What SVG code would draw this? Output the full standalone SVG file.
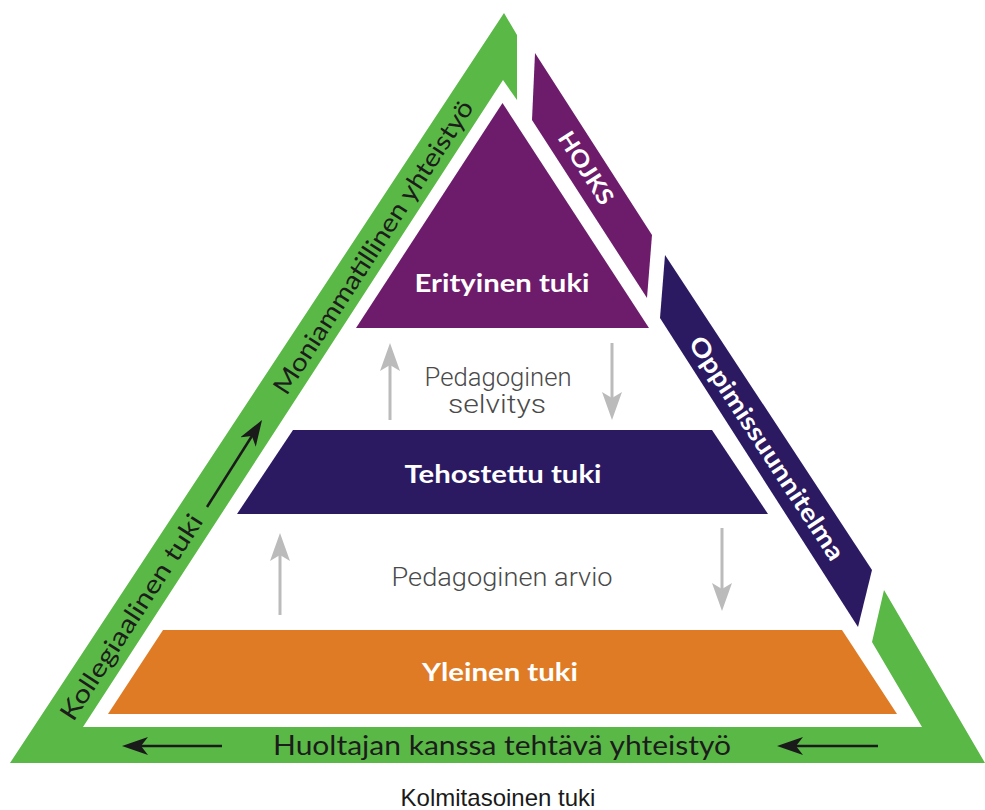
<svg xmlns="http://www.w3.org/2000/svg" width="985" height="810" viewBox="0 0 985 810">
<defs>
<style>
.green{fill:#5ab946}
.purple{fill:#6d1c6b}
.navy{fill:#2b1a62}
.orange{fill:#df7b24}
.lvl{font-family:Lato,"Open Sans","Liberation Sans",sans-serif;font-weight:700;fill:#ffffff;text-anchor:middle;font-size:25px}
.ped{font-family:Roboto,"Liberation Sans",sans-serif;font-weight:300;fill:#4a4a4a;text-anchor:middle;font-size:25px}
.band{font-family:Lato,"Open Sans","Liberation Sans",sans-serif;font-weight:400;fill:#1c1c1c;text-anchor:middle}
.bandw{font-family:Lato,"Open Sans","Liberation Sans",sans-serif;font-weight:700;fill:#ffffff;text-anchor:middle}
.grey{stroke:#bbbbbb;stroke-width:3;fill:none}
.blk{stroke:#1a1a1a;stroke-width:2.5;fill:none}
</style>
<marker id="gh" markerUnits="userSpaceOnUse" markerWidth="30" markerHeight="22" refX="18" refY="10" orient="auto">
<path d="M0,0 L28,10 L0,20 L6,10 z" fill="#bbbbbb"/>
</marker>
<marker id="bh" markerUnits="userSpaceOnUse" markerWidth="28" markerHeight="20" refX="16" refY="9" orient="auto">
<path d="M0,0 L26,9 L0,18 L7,9 z" fill="#1a1a1a"/>
</marker>
</defs>
<rect width="985" height="810" fill="#ffffff"/>

<g id="frame">
<polygon class="green" points="10,763 504,13 517,35 517,100 503,80 83,727 922,727 872,642 884,590 985,763"/>
</g>

<g id="erityinen">
<polygon class="purple" points="502.5,103 356,328 649,328"/>
<text class="lvl" x="502" y="292" textLength="175" lengthAdjust="spacingAndGlyphs">Erityinen tuki</text>
</g>

<g id="tehostettu">
<polygon class="navy" points="293,430 712,430 768,514 237,514"/>
<text class="lvl" x="503" y="483" textLength="197" lengthAdjust="spacingAndGlyphs">Tehostettu tuki</text>
</g>

<g id="yleinen">
<polygon class="orange" points="163,630 842,630 897,714 108,714"/>
<text class="lvl" x="500" y="681" textLength="156" lengthAdjust="spacingAndGlyphs">Yleinen tuki</text>
</g>

<g id="hojks">
<polygon class="purple" points="535,53 652,235 647,298 532,120"/>
<text class="bandw" transform="translate(586,168) rotate(57.3)" y="8" font-size="23" textLength="82" lengthAdjust="spacingAndGlyphs">HOJKS</text>
</g>

<g id="oppimissuunnitelma">
<polygon class="navy" points="665,255 872,570 858,627 660,318"/>
<text class="bandw" transform="translate(767,448) rotate(56.8)" y="9" font-size="25" font-weight="400" textLength="262" lengthAdjust="spacingAndGlyphs">Oppimissuunnitelma</text>
</g>

<g id="moniammatillinen">
<text class="band" transform="translate(373,247) rotate(-57)" y="9" font-size="25" textLength="345" lengthAdjust="spacingAndGlyphs">Moniammatillinen yhteistyö</text>
</g>

<g id="kollegiaalinen">
<text class="band" transform="translate(131,617) rotate(-57)" y="9" font-size="25" textLength="240" lengthAdjust="spacingAndGlyphs">Kollegiaalinen tuki</text>
</g>

<g id="huoltajan">
<text class="band" x="502" y="755" font-size="26" textLength="458" lengthAdjust="spacingAndGlyphs">Huoltajan kanssa tehtävä yhteistyö</text>
</g>

<g id="pedagoginen-selvitys">
<text class="ped" x="498" y="386" font-size="23" textLength="147" lengthAdjust="spacingAndGlyphs">Pedagoginen</text>
<text class="ped" x="497" y="413" font-size="23" textLength="98" lengthAdjust="spacingAndGlyphs">selvitys</text>
</g>

<g id="pedagoginen-arvio">
<text class="ped" x="502" y="586" textLength="221" lengthAdjust="spacingAndGlyphs">Pedagoginen arvio</text>
</g>

<g id="connectors">
<line class="grey" x1="390" y1="420" x2="390" y2="353" marker-end="url(#gh)"/>
<line class="grey" x1="612" y1="343" x2="612" y2="410" marker-end="url(#gh)"/>
<line class="grey" x1="280" y1="615" x2="280" y2="543" marker-end="url(#gh)"/>
<line class="grey" x1="722" y1="528" x2="722" y2="601" marker-end="url(#gh)"/>
<line class="blk" x1="207" y1="507" x2="256.7" y2="428.5" marker-end="url(#bh)"/>
<line class="blk" x1="222" y1="746" x2="132" y2="746" marker-end="url(#bh)"/>
<line class="blk" x1="878" y1="746" x2="787" y2="746" marker-end="url(#bh)"/>
</g>

<g id="title">
<text x="498" y="806" font-family="'Liberation Sans',Arial,sans-serif" font-size="24" fill="#1a1a1a" text-anchor="middle">Kolmitasoinen tuki</text>
</g>
</svg>
